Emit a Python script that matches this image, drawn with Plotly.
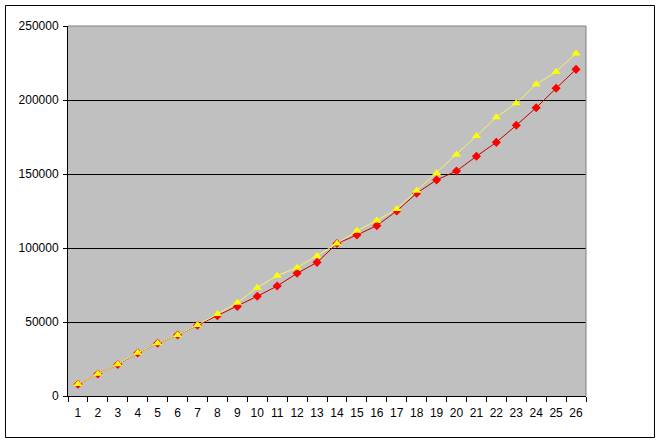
import plotly.graph_objects as go

categories = [str(i) for i in range(1, 27)]
red_values = [7900, 14900, 21300, 29100, 35600, 41200, 47800, 54300, 60500, 67400,
              74300, 82900, 90300, 103000, 108800, 115100, 125000, 137000, 146000, 152000,
              162000, 171400, 182900, 194800, 207900, 220700]
yellow_values = [8100, 15000, 21500, 29200, 35700, 41300, 48000, 55400, 63000, 73200,
                 81300, 86700, 94600, 103000, 111700, 118500, 126400, 138700, 150500, 163100,
                 175700, 188300, 197800, 210600, 219100, 231500]
y_ticks = [0, 50000, 100000, 150000, 200000, 250000]

fig = go.Figure()
fig.add_trace(go.Scatter(
    x=categories, y=red_values, mode="lines+markers",
    line=dict(color="#C00000", width=1),
    marker=dict(symbol="diamond", size=7, color="#FF0000", line=dict(width=0)),
    showlegend=False))
fig.add_trace(go.Scatter(
    x=categories, y=yellow_values, mode="lines+markers",
    line=dict(color="#F5F560", width=1),
    marker=dict(symbol="triangle-up", size=8, color="#FFFF00", line=dict(width=0)),
    showlegend=False))

font = dict(family="Arial, Liberation Sans, sans-serif", size=12, color="#000000")

fig.update_layout(
    width=660, height=442,
    margin=dict(l=68, r=74, t=26, b=46),
    paper_bgcolor="#FFFFFF",
    plot_bgcolor="#C0C0C0",
    font=font,
    xaxis=dict(type="category", tickson="boundaries", ticks="outside", ticklen=5,
               tickcolor="#000000", showline=True, linecolor="#000000", linewidth=1,
               showgrid=False, tickfont=font, range=[-0.5, 25.5], tickangle=0,
               automargin=False, ticklabelstandoff=6),
    yaxis=dict(range=[0, 250000], tickvals=y_ticks, ticktext=[str(v) for v in y_ticks],
               ticks="outside", ticklen=4, tickcolor="#000000",
               showline=True, linecolor="#000000", linewidth=1,
               showgrid=True, gridcolor="#000000", gridwidth=1, zeroline=False,
               tickfont=font, automargin=False, ticklabelstandoff=2),
    shapes=[
        dict(type="line", xref="paper", yref="paper", x0=0, x1=1, y0=1, y1=1,
             line=dict(color="#808080", width=1)),
        dict(type="line", xref="paper", yref="paper", x0=1, x1=1, y0=0, y1=1,
             line=dict(color="#808080", width=1)),
        dict(type="rect", xref="paper", yref="paper",
             x0=-0.1207, x1=1.1322, y0=-0.1122, y1=1.0554,
             line=dict(color="#000000", width=1), fillcolor="rgba(0,0,0,0)"),
    ],
)

fig.write_html(
    "out.html",
    config={"displayModeBar": False},
    post_script="document.body.style.margin='0';document.body.style.overflow='hidden';",
)
